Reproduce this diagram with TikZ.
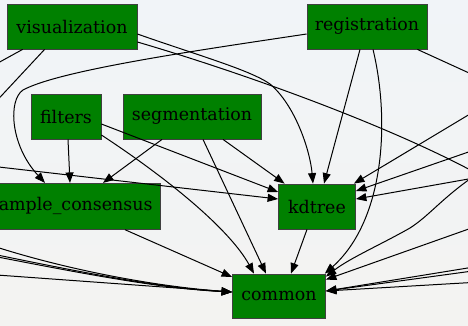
\documentclass[tikz,border=0pt]{standalone}
\usepackage{fontspec}
\setmainfont{DejaVu Serif}
\usetikzlibrary{arrows.meta}
\definecolor{pkggreen}{RGB}{0,128,0}
\definecolor{bgtop}{RGB}{241,244,248}
\definecolor{bgbot}{RGB}{243,243,241}
\begin{document}
\begin{tikzpicture}[x=1bp,y=-1bp,
  pkg/.style={draw=black!75, line width=0.8bp, fill=pkggreen, inner sep=0pt,
    font=\fontsize{17.5}{20}\selectfont, text=black, minimum height=45bp},
  dep/.style={draw=black, line width=1bp, -{Triangle[length=10.5bp,width=8bp]}},
  freeend/.style={draw=black, line width=1bp}]
\useasboundingbox (0,0) rectangle (468,325);
\shade[top color=bgtop, bottom color=bgbot] (0,0) rectangle (468,325);
\clip (0,0) rectangle (468,325);

% nodes
\node[pkg, minimum width=130bp] (vis) at (72,26.5) {visualization};
\node[pkg, minimum width=120bp] (reg) at (367,26.5) {registration};
\node[pkg, minimum width=70bp] (fil) at (66,116.5) {filters};
\node[pkg, minimum width=138bp] (seg) at (192,116.5) {segmentation};
\node[pkg, inner xsep=8bp, minimum height=46bp, anchor=east] (samp) at (161,206.3) {sample\_consensus};
\node[pkg, minimum width=77bp] (kd) at (317,206.5) {kdtree};
\node[pkg, minimum width=93bp, minimum height=44bp] (com) at (279,296) {common};

% off-frame ends
\coordinate (L1) at (-13,69);
\coordinate (L2) at (-10,108);
\coordinate (L3) at (-10,166);
\coordinate (L4a) at (-10,245);
\coordinate (L4b) at (-10,253.5);
\coordinate (L4c) at (-10,255.5);
\coordinate (L4d) at (-10,274.5);
\coordinate (R1) at (485,178);
\coordinate (R2) at (480,78);
\coordinate (R3a) at (480,108);
\coordinate (R3b) at (480,148);
\coordinate (R3c) at (474,178);
\coordinate (R4a) at (474,176);
\coordinate (R4b) at (480,225);
\coordinate (R4c) at (480,266);
\coordinate (R4d) at (480,270);
\coordinate (R4e) at (480,282);

% visualization
\draw[freeend] ([xshift=16bp]vis.south west) -- (L1);
\draw[freeend] ([xshift=38bp]vis.south west) -- (L2);
\draw[dep] ([yshift=-7.5bp]vis.east) .. controls (200,56) and (250,70) .. (270,84)
  .. controls (295,105) and (310,150) .. ([xshift=-4bp]kd.north);
\draw[freeend] ([yshift=-15.5bp]vis.east) .. controls (250,75) and (400,130) .. (R1);

% registration
\draw[dep] ([yshift=-7.5bp]reg.west) .. controls (200,50) and (60,70) .. (23,90)
  .. controls (8,100) and (10,145) .. ([xshift=-116bp]samp.north east);
\draw[dep] ([xshift=-7bp]reg.south) -- ([xshift=7bp]kd.north);
\draw[dep] ([xshift=6bp]reg.south) .. controls (390,120) and (385,220) .. ([xshift=-1bp]com.north east);
\draw[freeend] ([xshift=-10bp]reg.south east) -- (R2);

% filters
\draw[dep] ([xshift=2bp]fil.south) -- ([xshift=-91bp]samp.north east);
\draw[dep] ([yshift=-7.5bp]fil.east) -- ([yshift=14.5bp]kd.west);
\draw[dep] ([yshift=-18.5bp]fil.east) .. controls (170,180) and (230,230) .. ([xshift=-25bp]com.north);

% segmentation
\draw[dep] ([xshift=-30bp]seg.south) -- ([xshift=-58bp]samp.north east);
\draw[dep] ([xshift=31bp]seg.south) -- ([xshift=6.5bp]kd.north west);
\draw[dep] ([xshift=11bp]seg.south) -- ([xshift=-13bp]com.north);

% sample_consensus, kdtree
\draw[dep] ([xshift=-36bp]samp.south east) -- ([yshift=19bp]com.west);
\draw[dep] ([xshift=-10bp]kd.south) -- ([xshift=12bp]com.north);

% from the left
\draw[dep] (L3) -- ([yshift=7.5bp]kd.west);
\draw[dep] (L4a) .. controls (60,268) and (150,286) .. ([yshift=4bp]com.west);
\draw[dep] (L4b) .. controls (80,272) and (160,288) .. ([yshift=4bp]com.west);
\draw[dep] (L4c) .. controls (80,273) and (160,288.5) .. ([yshift=4bp]com.west);
\draw[dep] (L4d) -- ([yshift=4bp]com.west);

% from the right
\draw[dep] (R3a) -- ([xshift=-2bp]kd.north east);
\draw[dep] (R3b) -- ([yshift=15.5bp]kd.east);
\draw[dep] (R3c) -- ([yshift=7.5bp]kd.east);
\draw[dep] (R4a) .. controls (440,200) and (430,215) .. (410,228)
  .. controls (380,245) and (350,258) .. ([yshift=-3bp]com.north east);
\draw[dep] (R4b) -- ([yshift=-6bp]com.north east);
\draw[dep] (R4c) -- ([yshift=5bp]com.east);
\draw[dep] (R4d) -- ([yshift=5bp]com.east);
\draw[dep] (R4e) -- ([yshift=5bp]com.east);
\end{tikzpicture}
\end{document}
